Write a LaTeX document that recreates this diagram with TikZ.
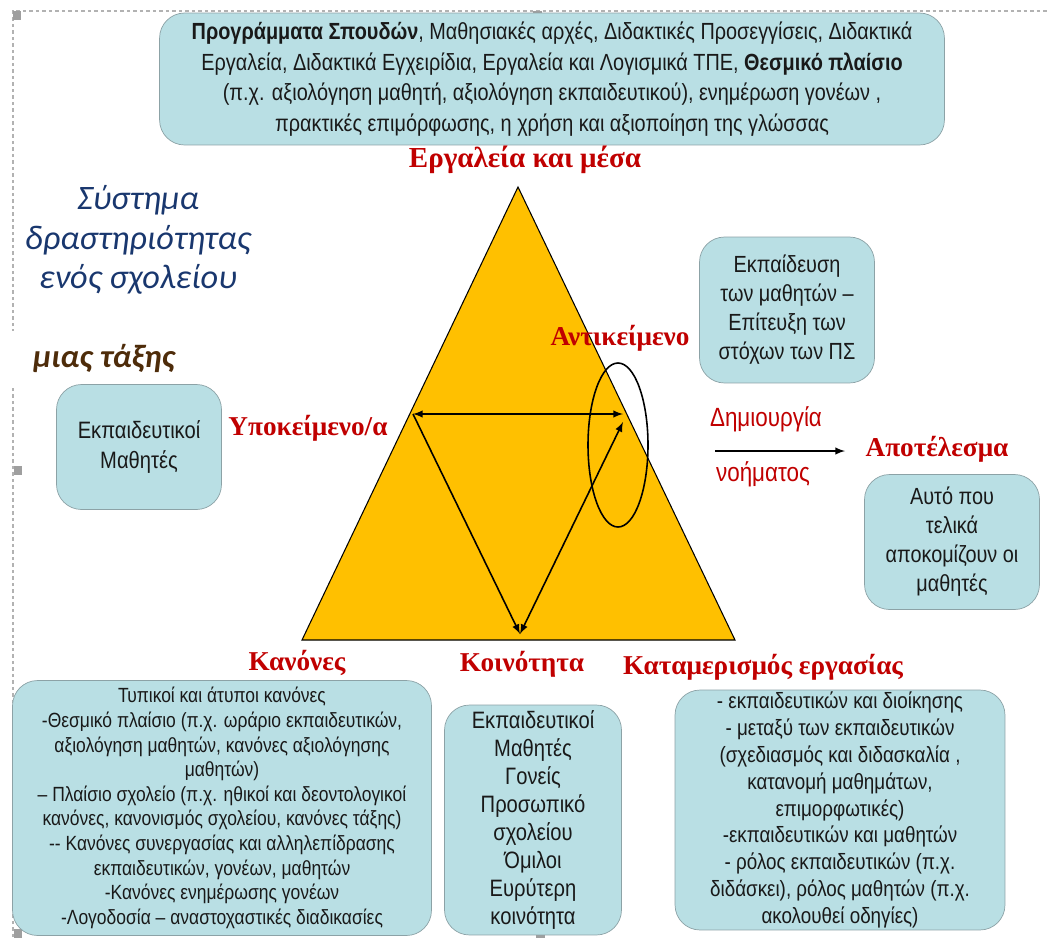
\documentclass[tikz,border=0pt]{standalone}
\usepackage{fontspec}
\usepackage{tikz}
\setmainfont{Liberation Sans}
\newfontfamily\boxfont[FakeStretch=0.85]{Liberation Sans}
\newfontfamily\labfont{Liberation Serif}
\newfontfamily\titlefont{Carlito}
\definecolor{boxfill}{RGB}{185,223,228}
\definecolor{boxline}{RGB}{140,162,166}
\definecolor{gold}{RGB}{255,192,0}
\definecolor{darkred}{RGB}{192,0,0}
\definecolor{navy}{RGB}{25,55,110}
\definecolor{taxbrown}{RGB}{78,44,10}

\begin{document}
\begin{tikzpicture}[x=0.02cm, y=-0.02cm, >=latex,
	box/.style={draw=boxline, fill=boxfill, rounded corners=0.5cm, align=center, inner sep=0pt, text=black!90},
	redlabel/.style={text=darkred, font=\labfont\bfseries\fontsize{15.5}{18}\selectfont, inner sep=0pt},
	thinlabel/.style={text=darkred, font=\boxfont\fontsize{15}{18}\selectfont, inner sep=0pt},
	handle/.style={fill=gray!75, minimum size=0.18cm, inner sep=0pt},
	frame/.style={draw=gray!60, line width=1.1pt, dash pattern=on 0.07cm off 0.06cm}]
		\useasboundingbox (0,0) rectangle (1047,937);
		\draw[frame] (13,937) -- (13,11) -- (1047,11);
		\foreach \hx/\hy in {17/15, 537/15, 18/470, 18/933, 540/933}{
		  \node[handle] at (\hx,\hy) {};
		}
		\node[fill=white, minimum width=4.2cm, minimum height=1.1cm, inner sep=0pt, text=taxbrown,
		  font=\titlefont\bfseries\itshape\fontsize{18.5}{20}\selectfont] (class) at (104,358) {μιας τάξης};
		\node[text=navy, align=center, font=\titlefont\itshape\fontsize{19.5}{22.5}\selectfont] (title) at (138,240)
		  {Σύστημα\\ δραστηριότητας\\ ενός σχολείου};
		\node[box, minimum width=15.7cm, minimum height=2.64cm, font=\boxfont\fontsize{13.3}{17.5}\selectfont] (tools box) at (552,79)
		  {\textbf{Προγράμματα Σπουδών}, Μαθησιακές αρχές, Διδακτικές Προσεγγίσεις, Διδακτικά\\
		   Εργαλεία, Διδακτικά Εγχειρίδια, Εργαλεία και Λογισμικά ΤΠΕ, \textbf{Θεσμικό πλαίσιο}\\
		   (π.χ. αξιολόγηση μαθητή, αξιολόγηση εκπαιδευτικού), ενημέρωση γονέων ,\\
		   πρακτικές επιμόρφωσης, η χρήση και αξιοποίηση της γλώσσας};
		\node[box, minimum width=3.5cm, minimum height=2.92cm, font=\boxfont\fontsize{13.3}{16.5}\selectfont] (object box) at (787,310)
		  {Εκπαίδευση\\ των μαθητών –\\ Επίτευξη των\\ στόχων των ΠΣ};
		\node[box, minimum width=3.3cm, minimum height=2.5cm, font=\boxfont\fontsize{13.5}{17}\selectfont] (subject box) at (139,447)
		  {Εκπαιδευτικοί\\ Μαθητές};
		\node[box, minimum width=3.5cm, minimum height=2.7cm, font=\boxfont\fontsize{13.3}{16.5}\selectfont] (outcome box) at (952,542)
		  {Αυτό που\\ τελικά\\ αποκομίζουν οι\\ μαθητές};
		\node[box, minimum width=8.38cm, minimum height=5.1cm, font=\boxfont\fontsize{11.7}{14}\selectfont] (rules box) at (222,808)
		  {Τυπικοί και άτυποι κανόνες\\
		   -Θεσμικό πλαίσιο (π.χ. ωράριο εκπαιδευτικών,\\
		   αξιολόγηση μαθητών, κανόνες αξιολόγησης\\
		   μαθητών)\\
		   – Πλαίσιο σχολείο (π.χ. ηθικοί και δεοντολογικοί\\
		   κανόνες, κανονισμός σχολείου, κανόνες τάξης)\\
		   -{}- Κανόνες συνεργασίας και αλληλεπίδρασης\\
		   εκπαιδευτικών, γονέων, μαθητών\\
		   -Κανόνες ενημέρωσης γονέων\\
		   -Λογοδοσία – αναστοχαστικές διαδικασίες};
		\node[box, minimum width=3.54cm, minimum height=4.6cm, font=\boxfont\fontsize{13.5}{16}\selectfont] (community box) at (533,820)
		  {Εκπαιδευτικοί\\ Μαθητές\\ Γονείς\\ Προσωπικό\\ σχολείου\\ Όμιλοι\\ Ευρύτερη\\ κοινότητα};
		\node[box, minimum width=6.6cm, minimum height=4.8cm, font=\boxfont\fontsize{12.6}{15.3}\selectfont] (division box) at (840,810)
		  {- εκπαιδευτικών και διοίκησης\\
		   - μεταξύ των εκπαιδευτικών\\
		   (σχεδιασμός και διδασκαλία ,\\
		   κατανομή μαθημάτων,\\
		   επιμορφωτικές)\\
		   -εκπαιδευτικών και μαθητών\\
		   - ρόλος εκπαιδευτικών (π.χ.\\
		   διδάσκει), ρόλος μαθητών (π.χ.\\
		   ακολουθεί οδηγίες)};
		\coordinate (apex) at (518,187);
		\coordinate (base left) at (302,640);
		\coordinate (base right) at (735,640);
		\coordinate (subject) at (413,414);
		\coordinate (object) at (623,414);
		\coordinate (object low) at (623,422);
		\coordinate (community) at (520,634);
		\draw[fill=gold, line width=0.6pt] (apex) -- (base left) -- (base right) -- cycle;
		\draw[line width=0.9pt] (618,445) ellipse (30 and 82);
		\draw[line width=0.9pt, <->] (subject) -- (object);
		\draw[line width=0.9pt, ->] (subject) -- (community);
		\draw[line width=0.9pt, <->] (community) -- (object low);
		\coordinate (meaning start) at (715,451);
		\coordinate (meaning end) at (845,451);
		\draw[line width=0.9pt, ->] (meaning start) -- (meaning end);
		\node[redlabel, font=\labfont\bfseries\fontsize{16.5}{18}\selectfont] (tools) at (525,160) {Εργαλεία και μέσα};
		\node[redlabel] (object label) at (620,338) {Αντικείμενο};
		\node[redlabel] (subject label) at (308,428) {Υποκείμενο/α};
		\node[redlabel] (rules) at (297,663) {Κανόνες};
		\node[redlabel] (community label) at (522,664) {Κοινότητα};
		\node[redlabel] (division) at (763,667) {Καταμερισμός εργασίας};
		\node[redlabel] (outcome) at (937,449) {Αποτέλεσμα};
		\node[thinlabel] (creation) at (766,419) {Δημιουργία};
		\node[thinlabel] (meaning) at (763,474) {νοήματος};
	\end{tikzpicture}
\end{document}
